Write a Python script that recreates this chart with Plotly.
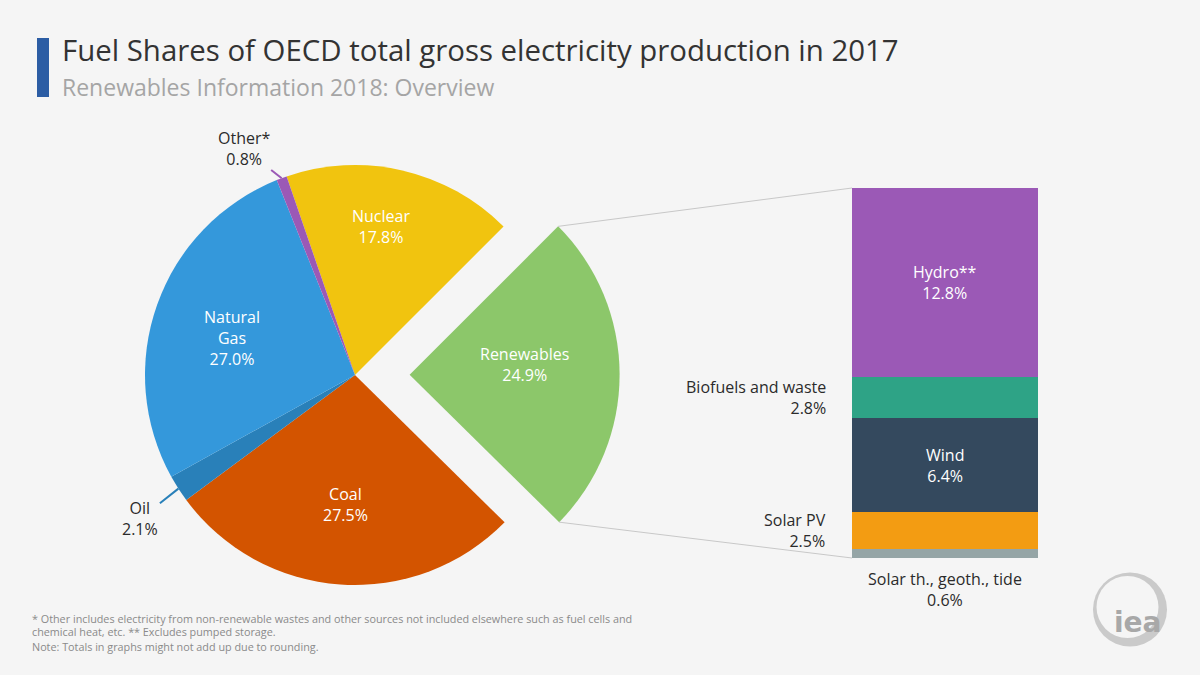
import numpy as np
import plotly.graph_objects as go

# ---------------- data ----------------
fuels = ["Nuclear", "Renewables", "Coal", "Oil", "Natural Gas", "Other*"]
fuel_shares = [17.8, 24.9, 27.5, 2.1, 27.0, 0.8]
fuel_colors = ["#F1C40F", "#8CC76A", "#D35400", "#2980B9", "#3498DB", "#9B59B6"]

ren_sources = ["Solar th., geoth., tide", "Solar PV", "Wind", "Biofuels and waste", "Hydro**"]
ren_shares = [0.6, 2.5, 6.4, 2.8, 12.8]
ren_colors = ["#95A5A6", "#F39C12", "#34495E", "#2EA386", "#9B59B6"]

title = "Fuel Shares of OECD total gross electricity production in 2017"
subtitle = "Renewables Information 2018: Overview"
footnotes = [
    "* Other includes electricity from non-renewable wastes and other sources not included elsewhere such as fuel cells and",
    "chemical heat, etc. ** Excludes pumped storage.",
    "Note: Totals in graphs might not add up due to rounding.",
]

# ---------------- layout / style ----------------
W, H = 1200, 675
BG = "#F5F5F5"
FONT = "Open Sans"
TXT = "#2B2B2B"
LBL = 16

CX, CY, R = 355, 375, 210
PULL = 0.26
ROT = -19
half = R * (1 + PULL)
pie_dom_x = [(CX - half) / W, (CX + half) / W]
pie_dom_y = [1 - (CY + half) / H, 1 - (CY - half) / H]

# label placement per fuel: ("in", radial fraction, angle offset) or ("out", ax, ay)
fuel_label_pos = [("in", 0.72, -3), ("in", 0.55, -5), ("in", 0.62, 0), ("out", -38, 30),
                  ("in", 0.61, -3), ("out", -38, -30)]
fuel_display = {"Natural Gas": "Natural<br>Gas"}

BAR_X0, BAR_X1, BAR_TOP, BAR_BOT = 852, 1038, 188, 558
bar_dom_x = [BAR_X0 / W, BAR_X1 / W]
bar_dom_y = [1 - BAR_BOT / H, 1 - BAR_TOP / H]
ren_label_pos = ["below", "left", "inside", "left", "inside"]


def px2paper(x, y):
    return x / W, 1 - y / H


def polar(cx, cy, ang_deg, d):
    a = np.radians(ang_deg)
    return cx + d * np.sin(a), cy - d * np.cos(a)


fig = go.Figure()

fig.add_trace(go.Pie(
    labels=fuels, values=fuel_shares, sort=False, direction="clockwise",
    rotation=ROT, pull=[PULL if f == "Renewables" else 0 for f in fuels],
    marker=dict(colors=fuel_colors, line=dict(width=0)),
    textinfo="none", hoverinfo="label+percent", showlegend=False,
    domain=dict(x=pie_dom_x, y=pie_dom_y),
))

for src, val, col in zip(ren_sources, ren_shares, ren_colors):
    fig.add_trace(go.Bar(
        x=[0], y=[val], name=src, width=1, marker=dict(color=col, line=dict(width=0)),
        showlegend=False, hoverinfo="name+y",
    ))

annotations = []
shapes = []

# ---- pie labels ----
total = sum(fuel_shares)
cum = 0.0
ren_start = ren_end = None
for name, val, col, pos in zip(fuels, fuel_shares, fuel_colors, fuel_label_pos):
    a0 = ROT + 360 * cum / total
    a1 = ROT + 360 * (cum + val) / total
    mid = (a0 + a1) / 2
    cum += val
    cx, cy = CX, CY
    if name == "Renewables":
        cx, cy = polar(CX, CY, mid, PULL * R)
        ren_start = polar(cx, cy, a0, R)
        ren_end = polar(cx, cy, a1, R)
    text = f"{fuel_display.get(name, name)}<br>{val:.1f}%"
    if pos[0] == "in":
        lx, ly = polar(cx, cy, mid + pos[2], pos[1] * R)
        px, py = px2paper(lx, ly)
        annotations.append(dict(x=px, y=py, xref="paper", yref="paper", text=text,
                                xanchor="center", yanchor="middle",
                                showarrow=False, font=dict(color="white", size=LBL, family=FONT)))
    else:
        ex, ey = polar(cx, cy, mid, R)
        px, py = px2paper(ex, ey)
        annotations.append(dict(x=px, y=py, xref="paper", yref="paper", text=text,
                                showarrow=True, arrowhead=0, arrowwidth=2, arrowcolor=col,
                                ax=pos[1], ay=pos[2], standoff=0,
                                font=dict(color=TXT, size=LBL, family=FONT)))

# ---- connector lines ----
ren_total = sum(ren_shares)
for (sx, sy), by in [(ren_start, bar_dom_y[1]), (ren_end, bar_dom_y[0])]:
    px, py = px2paper(sx, sy)
    shapes.append(dict(type="line", xref="paper", yref="paper", x0=px, y0=py,
                       x1=bar_dom_x[0], y1=by, line=dict(color="#C8C8C8", width=1)))

# ---- bar labels ----
cum = 0.0
for src, val, col, pos in zip(ren_sources, ren_shares, ren_colors, ren_label_pos):
    mid = cum + val / 2
    cum += val
    text = f"{src}<br>{val:.1f}%"
    if pos == "inside":
        annotations.append(dict(x=0, y=mid, xref="x", yref="y", text=text, showarrow=False,
                                xanchor="center", yanchor="middle",
                                font=dict(color="white", size=LBL, family=FONT)))
    elif pos == "left":
        shapes.append(dict(type="line", xref="x", yref="y", xsizemode="pixel", xanchor=-0.5,
                           x0=-15, x1=0, y0=mid, y1=mid, line=dict(color=col, width=2)))
        annotations.append(dict(x=-0.5, y=mid, xref="x", yref="y", text=text, showarrow=False,
                                xanchor="right", yanchor="middle", align="right", xshift=-24,
                                font=dict(color=TXT, size=LBL, family=FONT)))
    else:
        annotations.append(dict(x=0, y=0, xref="x", yref="y", text=text, showarrow=False,
                                xanchor="center", yanchor="top", yshift=-8,
                                font=dict(color=TXT, size=LBL, family=FONT)))

# ---- title ----
x0, y0 = px2paper(37, 38)
x1, y1 = px2paper(49, 97)
shapes.append(dict(type="rect", xref="paper", yref="paper", x0=x0, x1=x1, y0=y1, y1=y0,
                   fillcolor="#2C5DA4", line=dict(width=0)))
tx, ty = px2paper(60, 50)
annotations.append(dict(x=tx, y=ty, xref="paper", yref="paper", text=title, showarrow=False,
                        xanchor="left", yanchor="middle", font=dict(size=29.4, color="#333333", family=FONT)))
tx, ty = px2paper(60, 87)
annotations.append(dict(x=tx, y=ty, xref="paper", yref="paper", text=subtitle, showarrow=False,
                        xanchor="left", yanchor="middle", font=dict(size=23, color="#A5A5A5", family=FONT)))

# ---- footnotes ----
for line, yy in zip(footnotes, [618, 631, 646]):
    fx, fy = px2paper(30, yy)
    annotations.append(dict(x=fx, y=fy, xref="paper", yref="paper", text=line, showarrow=False,
                            xanchor="left", yanchor="middle", font=dict(size=10.8, color="#8A8A8A", family=FONT)))

# ---- logo ----
def circle(cx, cy, r, color):
    a, b = px2paper(cx - r, cy + r)
    c, d = px2paper(cx + r, cy - r)
    return dict(type="circle", xref="paper", yref="paper", x0=a, y0=b, x1=c, y1=d,
                fillcolor=color, line=dict(width=0), layer="above")

shapes.append(circle(1130, 609.5, 37, "#CACACA"))
shapes.append(circle(1127.5, 607, 31, BG))
lx, ly = px2paper(1137, 622)
annotations.append(dict(x=lx, y=ly, xref="paper", yref="paper", text="<b>iea</b>", showarrow=False,
                        xanchor="center", yanchor="middle",
                        font=dict(size=28, color="#A8A8A8", family="DejaVu Sans")))

fig.update_layout(
    width=W, height=H, margin=dict(l=0, r=0, t=0, b=0),
    paper_bgcolor=BG, plot_bgcolor=BG,
    barmode="stack", bargap=0,
    xaxis=dict(domain=bar_dom_x, range=[-0.5, 0.5], visible=False, fixedrange=True),
    yaxis=dict(domain=bar_dom_y, range=[0, ren_total], visible=False, fixedrange=True),
    font=dict(family=FONT, color=TXT),
    annotations=annotations, shapes=shapes,
)

fig.write_html("out.html")
